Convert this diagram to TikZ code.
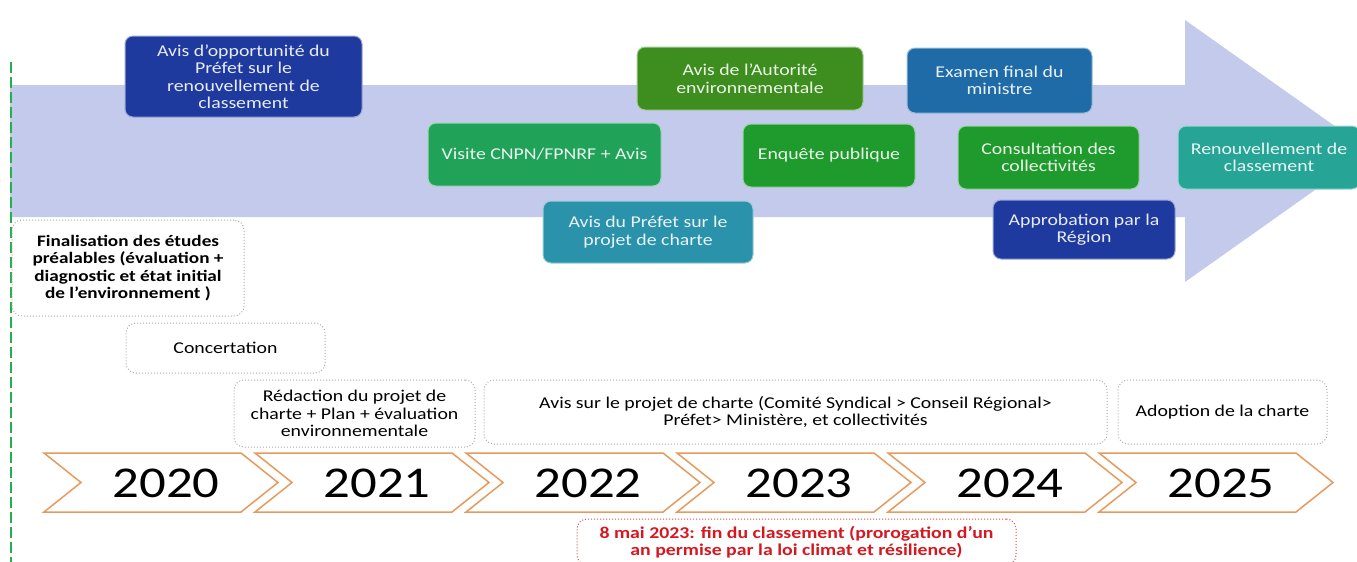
\documentclass[tikz,border=0pt]{standalone}
\usepackage{fontspec}
\setmainfont{Carlito}[FakeStretch=1.2]

\definecolor{flowblue}{HTML}{C3CAEB}
\definecolor{navy}{HTML}{1E3A9E}
\definecolor{leaf}{HTML}{20A258}
\definecolor{olivegreen}{HTML}{3E8E1F}
\definecolor{grass}{HTML}{1F9A2C}
\definecolor{petrol}{HTML}{2A92AA}
\definecolor{steel}{HTML}{1E6BA8}
\definecolor{lagoon}{HTML}{26A596}
\definecolor{chevronline}{HTML}{E59A5E}
\definecolor{markgreen}{HTML}{22B14C}
\definecolor{alertred}{HTML}{D51820}

\tikzset{
  phase/.style={draw=#1!45!white, fill=#1, line width=1pt, rounded corners=8pt,
    text=#1!10!white, align=center, inner sep=2pt, font=\fontsize{16.5}{17.5}\selectfont},
  etape/.style={draw=gray!65, dotted, line width=1pt, rounded corners=10pt,
    align=center, inner sep=2pt, font=\fontsize{16.5}{17.5}\selectfont},
}

\begin{document}
\begin{tikzpicture}[x=1pt, y=-1pt]
	\useasboundingbox (0,0) rectangle (1357,562);

	% big arrow
	\fill[flowblue] (10,85) -- (1185,85) -- (1185,20) -- (1370,151)
		-- (1185,282) -- (1185,217) -- (10,217) -- cycle;

	% left marker
	\draw[markgreen, line width=2.2pt, dash pattern=on 11pt off 4pt] (11,62) -- (11,562);

	% steps on the arrow
	\node[phase=navy, minimum width=237pt, minimum height=81pt] (opp) at (243.5,76.5)
		{Avis d’opportunité du\\Préfet sur le\\renouvellement de\\classement};
	\node[phase=leaf, minimum width=233pt, minimum height=63pt] (visite) at (544.5,154.5)
		{Visite CNPN/FPNRF + Avis};
	\node[phase=olivegreen, minimum width=226pt, minimum height=63pt] (autorite) at (750,78.5)
		{Avis de l’Autorité\\environnementale};
	\node[phase=grass, minimum width=172pt, minimum height=63pt] (enquete) at (829,155.5)
		{Enquête publique};
	\node[phase=petrol, minimum width=210pt, minimum height=62pt] (prefet) at (648,232)
		{Avis du Préfet sur le\\projet de charte};
	\node[phase=steel, minimum width=185pt, minimum height=65pt] (examen) at (999.5,80.5)
		{Examen final du\\ministre};
	\node[phase=grass, minimum width=181pt, minimum height=63pt] (consult) at (1048.5,157.5)
		{Consultation des\\collectivités};
	\node[phase=navy, minimum width=182pt, minimum height=59pt] (approb) at (1084,229.5)
		{Approbation par la\\Région};
	\node[phase=lagoon, minimum width=182pt, minimum height=63pt] (renouv) at (1269,157.5)
		{Renouvellement de\\classement};

	% dotted steps
	\node[etape, minimum width=232pt, minimum height=96pt, font=\fontsize{16}{17.5}\selectfont\bfseries] (final) at (128,268)
		{Finalisation des études\\préalables (évaluation +\\diagnostic et état initial\\de l’environnement )};
	\node[etape, minimum width=199pt, minimum height=50pt] (concert) at (225.5,348)
		{Concertation};
	\node[etape, minimum width=241pt, minimum height=67pt] (redac) at (354.5,413.5)
		{Rédaction du projet de\\charte + Plan + évaluation\\environnementale};
	\node[etape, minimum width=623pt, minimum height=64pt] (avissur) at (795.5,412)
		{Avis sur le projet de charte (Comité Syndical > Conseil Régional>\\Préfet> Ministère, et collectivités};
	\node[etape, minimum width=209pt, minimum height=64pt] (adopt) at (1222.5,412)
		{Adoption de la charte};

	% years
	\foreach \yr [count=\i from 0] in {2020,2021,2022,2023,2024,2025} {
		\pgfmathsetmacro{\xo}{44+211*\i}
		\draw[chevronline, line width=1.5pt, fill=white] (\xo,453) -- ++(197,0) -- ++(37,29.5)
			-- ++(-37,29.5) -- ++(-197,0) -- ++(37,-29.5) -- cycle;
		\node[font=\fontsize{44}{46}\selectfont] (y\yr) at (\xo+122,483) {\yr};
	}

	% end of classification
	\node[etape, draw=alertred!80, text=alertred, font=\fontsize{16.5}{17.5}\selectfont\bfseries,
		minimum width=439pt, minimum height=46pt] (fin) at (796.5,542)
		{8 mai 2023: fin du classement (prorogation d’un\\an permise par la loi climat et résilience)};

\end{tikzpicture}
\end{document}
